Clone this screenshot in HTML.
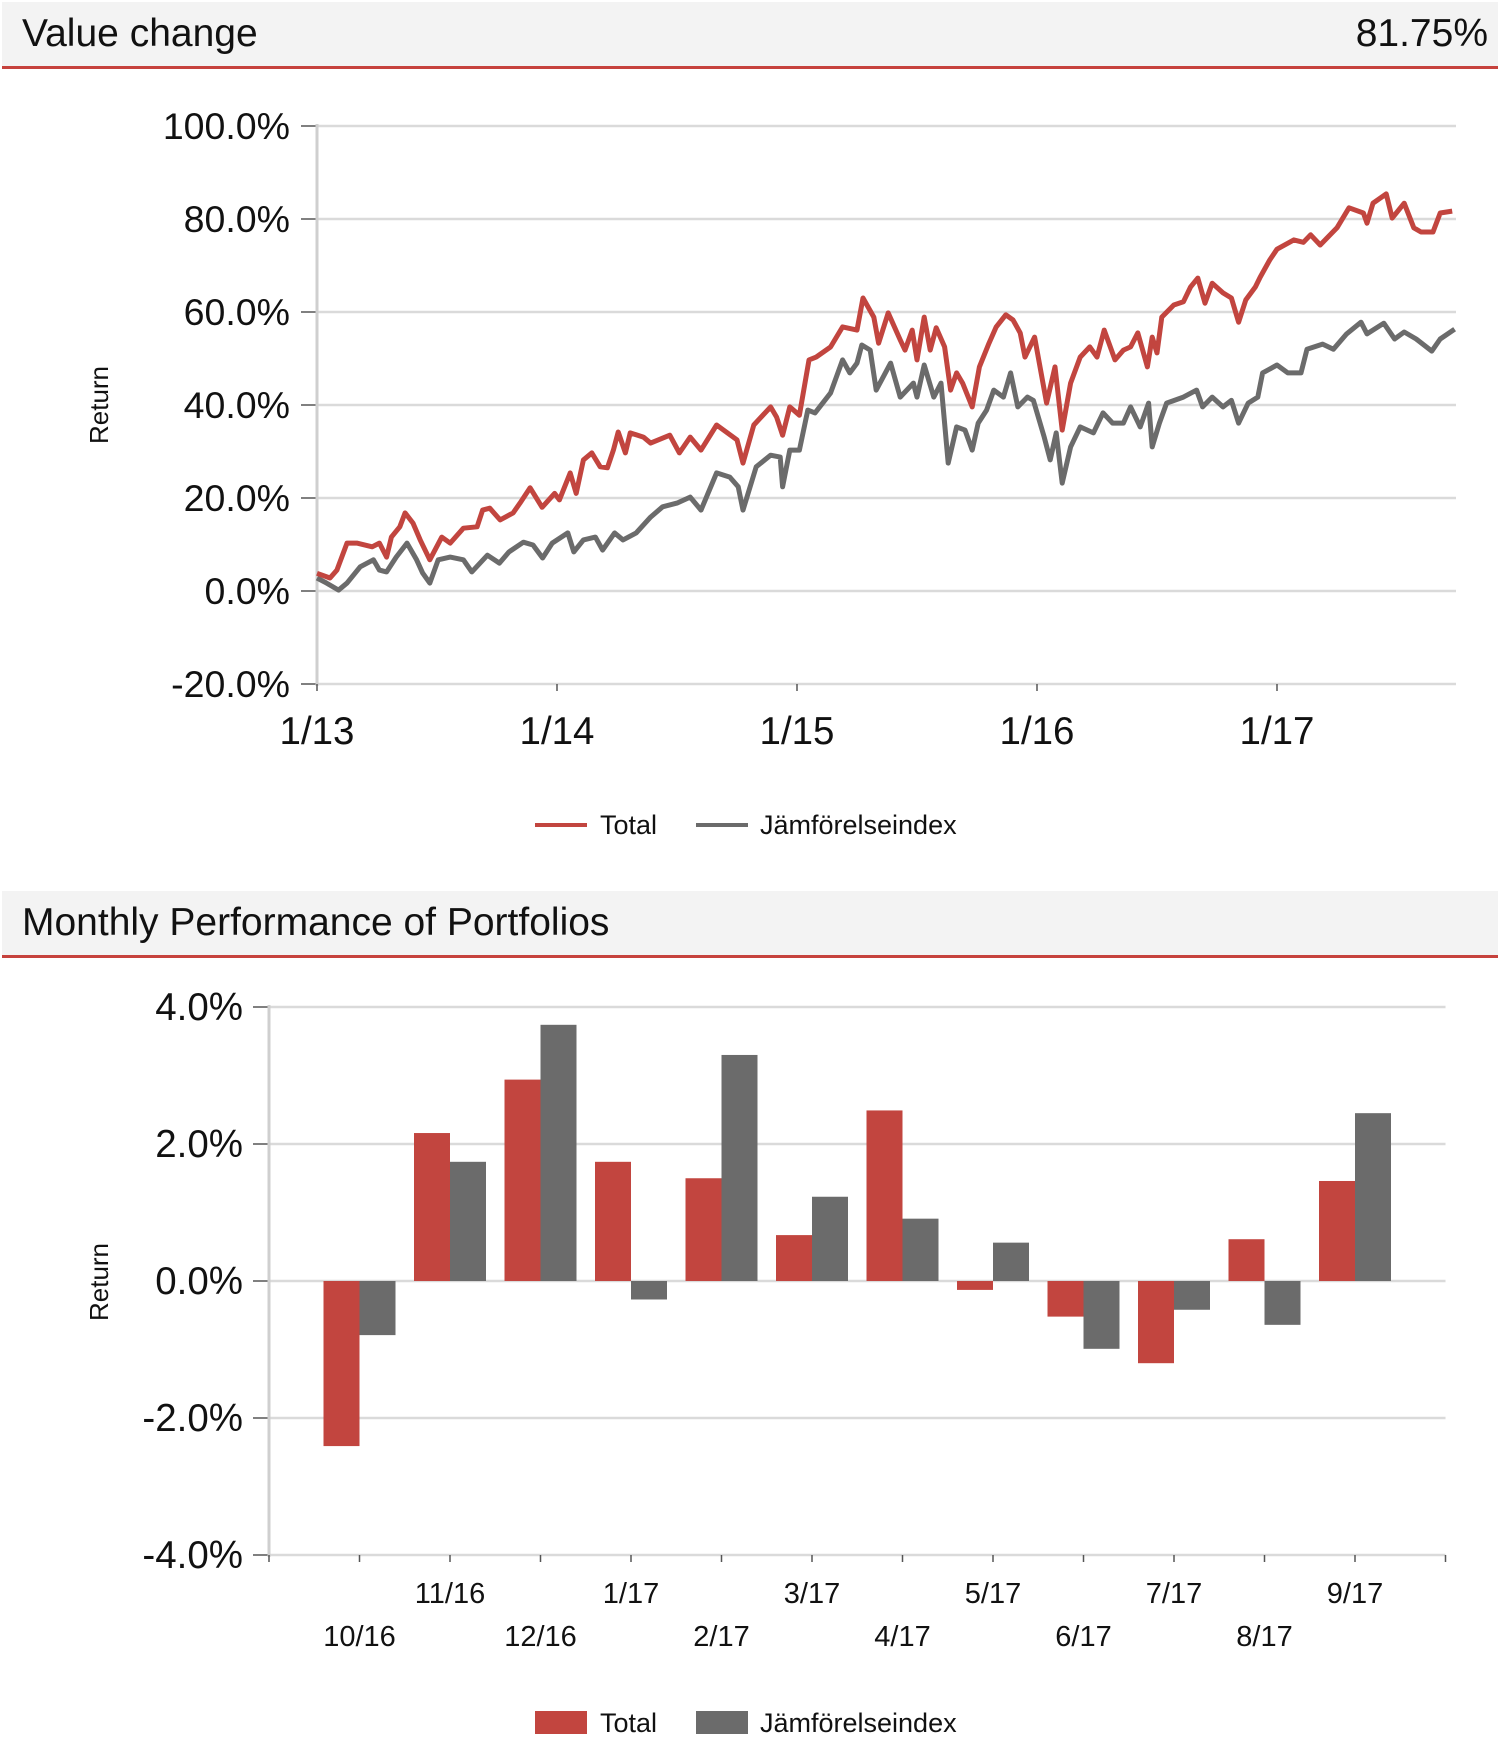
<!DOCTYPE html>
<html><head><meta charset="utf-8"><style>
html,body{margin:0;padding:0;background:#fff;}
svg{display:block;font-family:"Liberation Sans",Arial,sans-serif;}
</style></head><body>
<svg id="root" width="1502" height="1760" viewBox="0 0 1502 1760" xmlns="http://www.w3.org/2000/svg">
  <g>
    <rect x="2" y="2" width="1496" height="64" fill="#f3f3f3"/>
    <rect x="2" y="66" width="1496" height="3" fill="#c6423d"/>
    <text x="22" y="46" font-size="39" fill="#111">Value change</text>
    <text x="1488" y="46" font-size="39" fill="#111" text-anchor="end">81.75%</text>
  </g>
  <g id="lineChart"></g>
  <g>
    <rect x="2" y="891" width="1496" height="64" fill="#f3f3f3"/>
    <rect x="2" y="955" width="1496" height="3" fill="#c6423d"/>
    <text x="22" y="935" font-size="39" fill="#111">Monthly Performance of Portfolios</text>
  </g>
  <g id="barChart"></g>
</svg>
<script>
// ---- Line chart data (t = years since Jan 2013, v = return %) ----
const lineYTicks = [100, 80, 60, 40, 20, 0, -20];
const lineXLabels = ["1/13", "1/14", "1/15", "1/16", "1/17"];
const totalT = [0,.054,.083,.125,.166,.23,.26,.29,.31,.345,.367,.4,.43,.47,.52,.555,.61,.667,.69,.72,.763,.817,.846,.888,.938,.99,1.01,1.055,1.08,1.11,1.145,1.18,1.21,1.235,1.255,1.285,1.305,1.36,1.39,1.47,1.51,1.555,1.6,1.665,1.71,1.75,1.775,1.82,1.89,1.915,1.94,1.97,2.01,2.05,2.08,2.14,2.19,2.25,2.275,2.32,2.34,2.38,2.43,2.45,2.48,2.5,2.53,2.555,2.58,2.615,2.64,2.665,2.69,2.73,2.76,2.8,2.83,2.87,2.9,2.93,2.95,2.99,3.04,3.075,3.105,3.14,3.18,3.22,3.25,3.28,3.325,3.36,3.39,3.42,3.46,3.48,3.5,3.52,3.57,3.61,3.64,3.67,3.7,3.73,3.775,3.81,3.84,3.87,3.91,3.93,3.97,4.0,4.07,4.11,4.14,4.18,4.25,4.3,4.36,4.375,4.4,4.455,4.48,4.53,4.57,4.6,4.65,4.68,4.73];
const totalV = [3.8,2.8,4.5,10.3,10.3,9.5,10.3,7.3,11.6,13.8,16.8,14.6,11,6.7,11.6,10.3,13.5,13.8,17.4,17.8,15.3,16.8,18.9,22.2,18,21,19.6,25.4,21,28.2,29.7,26.7,26.5,30.3,34.2,29.7,34,33.1,31.8,33.5,29.7,33.1,30.3,35.7,34,32.5,27.5,35.7,39.6,37.4,33.5,39.6,37.8,49.7,50.3,52.5,56.8,56.1,63,58.9,53.3,59.8,54,51.8,56.1,49.7,58.9,51.8,56.6,52.5,43.2,46.9,44.7,39.6,48.2,53.3,56.8,59.4,58.3,55.5,50.3,54.6,40.4,48.2,34.6,44.7,50.3,52.5,50.3,56.1,49.7,51.8,52.5,55.5,48.2,54.6,51.2,58.9,61.5,62.2,65.4,67.3,61.9,66.2,64.1,63,57.8,62.6,65.4,67.5,71.2,73.5,75.5,75,76.6,74.4,78.1,82.4,81.3,79.1,83.4,85.4,80.2,83.4,78.1,77.2,77.2,81.3,81.7];
const benchT = [0,.04,.09,.125,.18,.235,.26,.29,.33,.375,.415,.44,.47,.505,.555,.61,.645,.71,.76,.8,.86,.9,.94,.98,1.045,1.07,1.11,1.16,1.19,1.24,1.275,1.33,1.39,1.44,1.5,1.555,1.6,1.665,1.72,1.755,1.775,1.83,1.89,1.93,1.94,1.97,2.01,2.045,2.075,2.14,2.19,2.22,2.25,2.27,2.305,2.33,2.39,2.43,2.485,2.5,2.53,2.57,2.6,2.63,2.665,2.7,2.73,2.755,2.79,2.82,2.86,2.89,2.92,2.96,2.985,3.03,3.055,3.08,3.105,3.14,3.18,3.235,3.275,3.315,3.36,3.39,3.43,3.465,3.48,3.51,3.54,3.61,3.665,3.69,3.73,3.775,3.81,3.84,3.88,3.92,3.94,4.0,4.045,4.1,4.125,4.19,4.235,4.29,4.35,4.375,4.445,4.49,4.53,4.58,4.645,4.68,4.74];
const benchV = [2.8,1.7,0.2,1.7,5.2,6.7,4.5,4.1,7.3,10.3,6.7,3.9,1.7,6.7,7.3,6.7,4.1,7.7,6,8.4,10.5,9.9,7.1,10.3,12.5,8.4,11,11.6,8.8,12.5,11,12.5,15.9,18.1,18.9,20.2,17.4,25.4,24.5,22.4,17.4,26.7,29.2,28.8,22.4,30.3,30.3,38.9,38.3,42.6,49.7,46.9,49,52.9,51.8,43.2,49,41.7,44.7,41.7,48.6,41.7,44.7,27.5,35.3,34.6,30.3,36.1,38.9,43.2,41.7,46.9,39.6,41.7,41,33.1,28.2,34,23.2,31,35.3,34,38.3,36.1,36.1,39.6,35.3,40.4,31,36.1,40.4,41.7,43.2,39.6,41.7,39.6,41,36.1,40.4,41.7,46.9,48.6,46.9,46.9,52,53.1,52,55.3,57.8,55.3,57.6,54.2,55.7,54.2,51.6,54.2,56.3];

// ---- Bar chart data (%) ----
const barCategories = ["10/16","11/16","12/16","1/17","2/17","3/17","4/17","5/17","6/17","7/17","8/17","9/17"];
const barTotal = [-2.41,2.16,2.94,1.74,1.50,0.67,2.49,-0.13,-0.52,-1.20,0.61,1.46];
const barBench = [-0.79,1.74,3.74,-0.27,3.30,1.23,0.91,0.56,-0.99,-0.42,-0.64,2.45];
const barYTicks = [4, 2, 0, -2, -4];

const NS = "http://www.w3.org/2000/svg";
const RED = "#c2453f", GRAY = "#6b6b6b", GRID = "#dadada";
function mk(parent, tag, attrs, text) {
  const e = document.createElementNS(NS, tag);
  for (const k in attrs) e.setAttribute(k, attrs[k]);
  if (text !== undefined) e.textContent = text;
  parent.appendChild(e);
  return e;
}

// ===== Line chart =====
(function () {
  const g = document.getElementById("lineChart");
  const x0 = 317, x1 = 1456, yearPx = 240;
  const xs = t => x0 + t * yearPx;
  const ys = v => 591 - v * 4.65;
  lineYTicks.forEach(v => {
    const gl = mk(g, "line", {x1: x0, x2: x1, y1: ys(v), y2: ys(v), stroke: GRID, "stroke-width": 2.5});
    
    
    mk(g, "line", {x1: 301, x2: x0, y1: ys(v), y2: ys(v), stroke: "#555", "stroke-width": 1.5});
    const tl = mk(g, "text", {x: 290, y: ys(v) + 13, "font-size": 37.5, "text-anchor": "end", fill: "#111"}, v.toFixed(1) + "%");
    
    
  });
  const ax = mk(g, "line", {x1: x0, x2: x0, y1: ys(100) - 2, y2: ys(-20) + 2, stroke: "#cfcfcf", "stroke-width": 3});
  
  
  lineXLabels.forEach((lab, i) => {
    mk(g, "line", {x1: xs(i), x2: xs(i), y1: ys(-20), y2: ys(-20) + 7, stroke: "#555", "stroke-width": 1.5});
    const xl = mk(g, "text", {x: xs(i), y: 744, "font-size": 38.5, "text-anchor": "middle", fill: "#111"}, lab);
    
    
  });
  const yt = mk(g, "text", {x: 0, y: 0, "font-size": 26, "text-anchor": "middle", fill: "#111", transform: "translate(108,405) rotate(-90)"}, "Return");
  
  
  function path(T, V) { return T.map((t, i) => (i ? "L" : "M") + xs(t).toFixed(1) + "," + ys(V[i]).toFixed(1)).join(""); }
  const pb = mk(g, "path", {d: path(benchT, benchV), fill: "none", stroke: GRAY, "stroke-width": 5, "stroke-linejoin": "round"});
  
  
  const pt = mk(g, "path", {d: path(totalT, totalV), fill: "none", stroke: RED, "stroke-width": 5, "stroke-linejoin": "round"});
  
  
  const lg = mk(g, "g", {});
  
  
  mk(lg, "rect", {x: 535, y: 823, width: 52, height: 4, fill: RED});
  mk(lg, "text", {x: 600, y: 834, "font-size": 27, fill: "#111"}, "Total");
  mk(lg, "rect", {x: 696, y: 823, width: 52, height: 4, fill: GRAY});
  mk(lg, "text", {x: 760, y: 834, "font-size": 27, fill: "#111"}, "Jämförelseindex");
})();

// ===== Bar chart =====
(function () {
  const g = document.getElementById("barChart");
  const x0 = 269, slot = 90.5, x1 = x0 + slot * 13, bw = 36;
  const ys = v => 1281 - v * 68.5;
  const cx = i => x0 + slot * (i + 1);
  barYTicks.forEach(v => {
    const gl = mk(g, "line", {x1: x0, x2: x1, y1: ys(v), y2: ys(v), stroke: GRID, "stroke-width": 2.5});
    
    
    mk(g, "line", {x1: 253, x2: x0, y1: ys(v), y2: ys(v), stroke: "#555", "stroke-width": 1.5});
    const tl = mk(g, "text", {x: 243, y: ys(v) + 13, "font-size": 38.5, "text-anchor": "end", fill: "#111"}, v.toFixed(1) + "%");
    
    
  });
  const ax = mk(g, "line", {x1: x0, x2: x0, y1: ys(4) - 2, y2: ys(-4) + 2, stroke: "#cfcfcf", "stroke-width": 3});
  
  
  for (let i = 0; i <= 13; i++) {
    const x = x0 + slot * i;
    mk(g, "line", {x1: x, x2: x, y1: ys(-4), y2: ys(-4) + 7, stroke: "#555", "stroke-width": 1.5});
  }
  barCategories.forEach((c, i) => {
    const rT = mk(g, "rect", {x: cx(i) - bw, y: Math.min(ys(barTotal[i]), ys(0)), width: bw, height: Math.abs(ys(barTotal[i]) - ys(0)), fill: RED});
    
    
    const rB = mk(g, "rect", {x: cx(i), y: Math.min(ys(barBench[i]), ys(0)), width: bw, height: Math.abs(ys(barBench[i]) - ys(0)), fill: GRAY});
    
    
    const lab = mk(g, "text", {x: cx(i), y: (i % 2 === 0) ? 1646 : 1603, "font-size": 29, "text-anchor": "middle", fill: "#111"}, c);
    
    
  });
  const yt = mk(g, "text", {x: 0, y: 0, "font-size": 26, "text-anchor": "middle", fill: "#111", transform: "translate(108,1282) rotate(-90)"}, "Return");
  
  
  const lg = mk(g, "g", {});
  
  
  mk(lg, "rect", {x: 535, y: 1711, width: 52, height: 23, fill: RED});
  mk(lg, "text", {x: 600, y: 1732, "font-size": 27, fill: "#111"}, "Total");
  mk(lg, "rect", {x: 696, y: 1711, width: 52, height: 23, fill: GRAY});
  mk(lg, "text", {x: 760, y: 1732, "font-size": 27, fill: "#111"}, "Jämförelseindex");
})();
</script>
</body></html>
